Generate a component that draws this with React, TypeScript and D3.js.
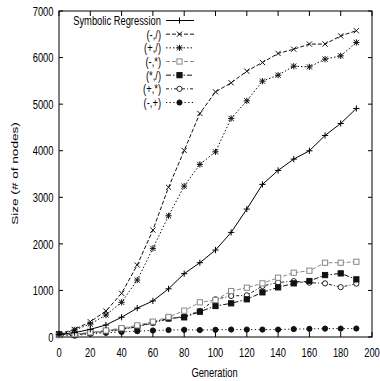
import React, { useEffect, useRef } from 'react';
import * as d3 from 'd3';

const generations = [0, 10, 20, 30, 40, 50, 60, 70, 80, 90, 100, 110, 120, 130, 140, 150, 160, 170, 180, 190];

const symbolicRegression = [60, 93, 165, 258, 425, 620, 775, 1035, 1360, 1595, 1867, 2246, 2747, 3277, 3577, 3820, 3998, 4328, 4585, 4907];
const subDiv = [70, 165, 328, 558, 938, 1545, 2296, 3215, 4005, 4800, 5264, 5458, 5708, 5895, 6088, 6180, 6290, 6290, 6465, 6577];
const addDiv = [50, 150, 279, 472, 745, 1223, 1903, 2603, 3240, 3706, 3977, 4693, 5071, 5494, 5622, 5815, 5800, 5966, 6037, 6324];
const subMul = [40, 60, 100, 140, 190, 250, 330, 430, 565, 745, 794, 987, 1058, 1152, 1273, 1380, 1423, 1595, 1595, 1616];
const mulDiv = [58, 43, 93, 129, 175, 220, 320, 400, 422, 543, 665, 723, 809, 959, 1066, 1152, 1202, 1330, 1366, 1238];
const addMul = [50, 60, 80, 120, 160, 220, 300, 390, 440, 560, 809, 880, 895, 1095, 1170, 1200, 1166, 1152, 1070, 1145];
const subAdd = [40, 30, 70, 90, 110, 125, 140, 150, 155, 150, 155, 160, 160, 160, 160, 170, 175, 180, 180, 182];

const xTicks = [0, 20, 40, 60, 80, 100, 120, 140, 160, 180, 200];
const yTicks = [0, 1000, 2000, 3000, 4000, 5000, 6000, 7000];

type Marker = 'plus' | 'cross' | 'star' | 'box' | 'fbox' | 'circle' | 'fcircle';

const series: { name: string; values: number[]; dash: string; color: string; marker: Marker }[] = [
  { name: 'Symbolic Regression', values: symbolicRegression, dash: '', color: '#000', marker: 'plus' },
  { name: '(-,/)', values: subDiv, dash: '4,2', color: '#111', marker: 'cross' },
  { name: '(+,/)', values: addDiv, dash: '1.5,2', color: '#111', marker: 'star' },
  { name: '(-,*)', values: subMul, dash: '4,2', color: '#888', marker: 'box' },
  { name: '(*,/)', values: mulDiv, dash: '5,2,1.5,2', color: '#111', marker: 'fbox' },
  { name: '(+,*)', values: addMul, dash: '3,2,1,2', color: '#222', marker: 'circle' },
  { name: '(-,+)', values: subAdd, dash: '1.2,2.5', color: '#111', marker: 'fcircle' },
];

const FONT = '"Liberation Sans", Arial, Helvetica, sans-serif';
const SX = 0.72;

function drawMarker(g: d3.Selection<SVGGElement, unknown, null, undefined>, type: Marker, x: number, y: number, color: string) {
  const s = 2.6;
  const line = (x1: number, y1: number, x2: number, y2: number) =>
    g.append('line').attr('x1', x1).attr('y1', y1).attr('x2', x2).attr('y2', y2)
      .attr('stroke', color).attr('stroke-width', 1);
  if (type === 'plus' || type === 'star') {
    line(x - s - 0.5, y, x + s + 0.5, y);
    line(x, y - s - 0.5, x, y + s + 0.5);
  }
  if (type === 'cross' || type === 'star') {
    line(x - s, y - s, x + s, y + s);
    line(x - s, y + s, x + s, y - s);
  }
  if (type === 'box' || type === 'fbox') {
    g.append('rect').attr('x', x - s).attr('y', y - s).attr('width', 2 * s).attr('height', 2 * s)
      .attr('fill', type === 'fbox' ? color : 'white').attr('stroke', color).attr('stroke-width', 1);
  }
  if (type === 'circle' || type === 'fcircle') {
    g.append('circle').attr('cx', x).attr('cy', y).attr('r', s)
      .attr('fill', type === 'fcircle' ? color : 'white').attr('stroke', color).attr('stroke-width', 1);
  }
}

const App: React.FC = () => {
  const svgRef = useRef<SVGSVGElement | null>(null);

  useEffect(() => {
    if (!svgRef.current) return;
    const svg = d3.select(svgRef.current);
    svg.selectAll('*').remove();

    const left = 59, right = 372, top = 11, bottom = 337;
    const x = d3.scaleLinear().domain([0, 200]).range([left, right]);
    const y = d3.scaleLinear().domain([0, 7000]).range([bottom, top]);

    const g = svg.append('g');

    // ticks (gnuplot style, inward, mirrored)
    xTicks.forEach(t => {
      g.append('line').attr('x1', x(t)).attr('x2', x(t)).attr('y1', bottom).attr('y2', bottom - 5)
        .attr('stroke', '#000');
      g.append('line').attr('x1', x(t)).attr('x2', x(t)).attr('y1', top).attr('y2', top + 5)
        .attr('stroke', '#000');
      g.append('text').attr('transform', `translate(${x(t)},357) scale(${SX},1)`)
        .attr('text-anchor', 'middle').attr('font-family', FONT).attr('font-size', 13)
        .text(t);
    });
    yTicks.forEach(t => {
      g.append('line').attr('x1', left).attr('x2', left + 4).attr('y1', y(t)).attr('y2', y(t))
        .attr('stroke', '#000');
      g.append('line').attr('x1', right).attr('x2', right - 4).attr('y1', y(t)).attr('y2', y(t))
        .attr('stroke', '#000');
      g.append('text').attr('transform', `translate(53.5,${y(t) + 4.7}) scale(${SX},1)`)
        .attr('text-anchor', 'end').attr('font-family', FONT).attr('font-size', 13)
        .text(t);
    });

    // frame
    g.append('rect').attr('x', left).attr('y', top).attr('width', right - left).attr('height', bottom - top)
      .attr('fill', 'none').attr('stroke', '#000').attr('stroke-width', 1);

    // axis titles
    g.append('text').attr('transform', `translate(214.5,377) scale(${SX},1)`)
      .attr('text-anchor', 'middle').attr('font-family', FONT).attr('font-size', 13)
      .text('Generation');
    g.append('text').attr('transform', `translate(17.5,173.5) rotate(-90) scale(1,${SX})`)
      .attr('text-anchor', 'middle').attr('font-family', FONT).attr('font-size', 13.6)
      .text('Size (# of nodes)');

    const lineGen = d3.line<number>()
      .x((_, i) => x(generations[i]))
      .y(d => y(d));

    // series, drawn in reverse so Symbolic Regression sits on top
    [...series].reverse().forEach(s => {
      g.append('path').datum(s.values).attr('d', lineGen)
        .attr('fill', 'none').attr('stroke', s.color).attr('stroke-width', 1)
        .attr('stroke-dasharray', s.dash || null);
      const mg = g.append('g');
      s.values.forEach((v, i) => drawMarker(mg, s.marker, x(generations[i]), y(v), s.color));
    });

    // legend
    const legendY = d3.scalePoint<string>().domain(series.map(s => s.name)).range([20.5, 102.5]);
    series.forEach(s => {
      const ly = legendY(s.name) as number;
      g.append('text').attr('transform', `translate(161,${ly + 4.5}) scale(${SX},1)`)
        .attr('text-anchor', 'end').attr('font-family', FONT).attr('font-size', 13)
        .text(s.name);
      g.append('line').attr('x1', 166).attr('x2', 194).attr('y1', ly).attr('y2', ly)
        .attr('stroke', s.color).attr('stroke-width', 1).attr('stroke-dasharray', s.dash || null);
      const mg = g.append('g');
      drawMarker(mg, s.marker, 179.5, ly, s.color);
    });
  }, []);

  return (
    <svg ref={svgRef} width={380} height={381}
      style={{ position: 'absolute', left: 0, top: 0, background: '#fff' }} />
  );
};

export default App;
